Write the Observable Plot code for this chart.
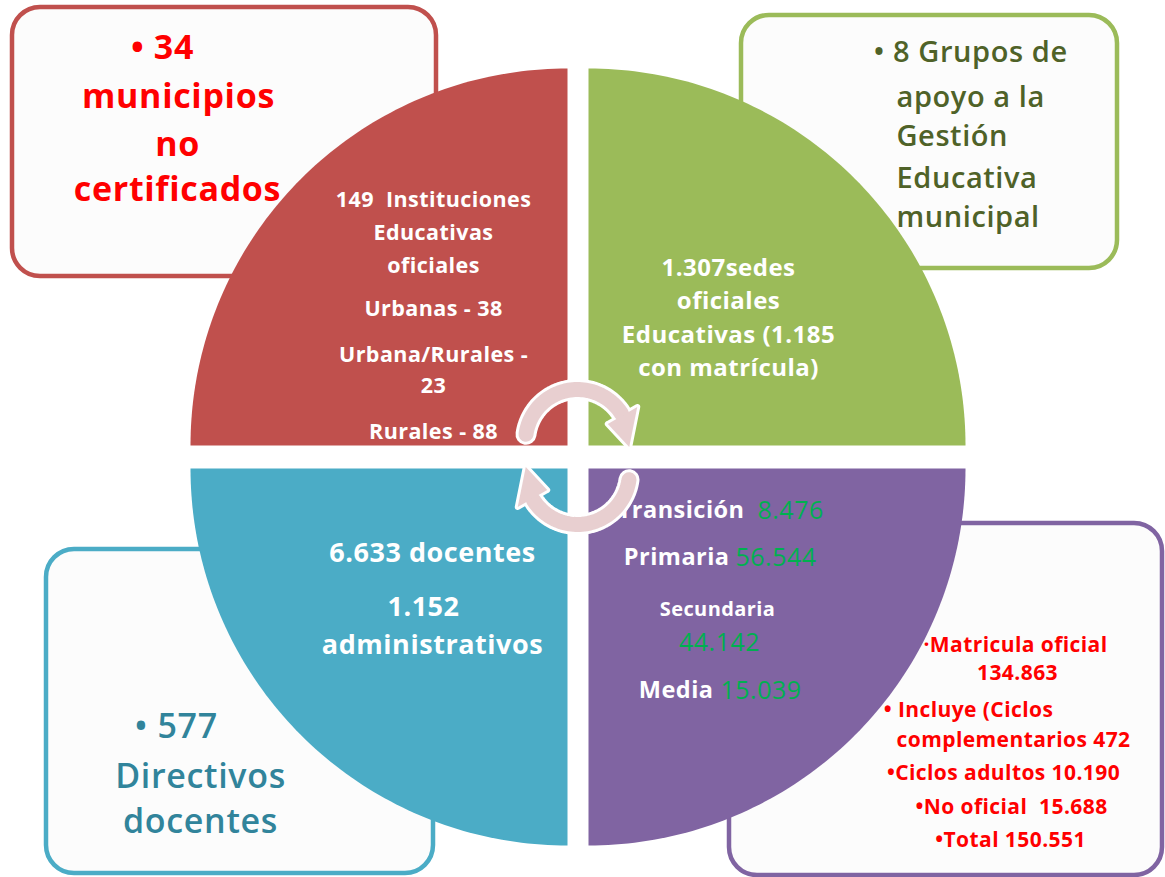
<!DOCTYPE html>
<html><head><meta charset="utf-8">
<script src="https://cdn.jsdelivr.net/npm/d3@7"></script>
<script src="https://cdn.jsdelivr.net/npm/@observablehq/plot@0.6"></script>
<style>body{margin:0;background:#fff}svg{display:block}svg text{letter-spacing:0.02em}</style>
</head><body><div id="chart"></div>
<script>
// ---- data ----
const quadrants = ["Instituciones", "Sedes", "Docentes", "Matrícula"];
const quadrantColors = ["#c0504d", "#9bbb59", "#4bacc6", "#8064a2"];
const redLines = ["149  Instituciones", "Educativas", "oficiales", "Urbanas - 38", "Urbana/Rurales -", "23", "Rurales - 88"];
const greenLines = ["1.307sedes", "oficiales", "Educativas (1.185", "con matrícula)"];
const blueLines = ["6.633 docentes", "1.152", "administrativos"];
const levelNames = ["Transición", "Primaria", "Secundaria", "Media"];
const levelValues = ["8.476", "56.544", "44.142", "15.039"];
const redBox = ["• 34", "municipios", "no", "certificados"];
const greenBox = ["• 8 Grupos de", "apoyo a la", "Gestión", "Educativa", "municipal"];
const blueBox = ["• 577", "Directivos", "docentes"];
const purpleBox = ["·Matricula oficial", "134.863", "• Incluye (Ciclos", "complementarios 472", "•Ciclos adultos 10.190", "•No oficial  15.688", "•Total 150.551"];

// ---- layout ----
const W = 1165, H = 877, R = 377;
const corners = [[567, 445, 90, 180], [588, 445, 0, 90], [567, 468, 180, 270], [588, 468, 270, 360]];
const boxes = [
  {q: 0, x1: 12, x2: 436, y1: 7, y2: 276},
  {q: 1, x1: 741, x2: 1117, y1: 15, y2: 268},
  {q: 2, x1: 46, x2: 433, y1: 549, y2: 873},
  {q: 3, x1: 729, x2: 1162, y1: 523, y2: 875}
];
const rad = d => d * Math.PI / 180;
function pt(cx, cy, r, a) { return {x: cx + r * Math.cos(rad(a)), y: cy - r * Math.sin(rad(a))}; }
function quarter(i) {
  const [cx, cy, a0, a1] = corners[i];
  const pts = [{x: cx, y: cy}];
  for (let a = a0; a <= a1 + 1e-9; a += 1) pts.push(pt(cx, cy, R, a));
  pts.push({x: cx, y: cy});
  return pts;
}
function arcPts(cx, cy, r, a0, a1) {
  const n = 60, pts = [];
  for (let k = 0; k <= n; k++) pts.push(pt(cx, cy, r, a0 + (a1 - a0) * k / n));
  return pts;
}
function head(cx, cy, r, aBase, aTip, hw) {
  return [pt(cx, cy, r - hw, aBase), pt(cx, cy, r, aTip), pt(cx, cy, r + hw, aBase), pt(cx, cy, r - hw, aBase)];
}
const arrows = [
  {cx: 577, cy: 441, r: 52, a0: 172, a1: 30, tip: -6},
  {cx: 577, cy: 472, r: 52, a0: -8, a1: -150, tip: -186}
];

const lines = (arr, xs, ys) => arr.map((t, i) => ({t, x: Array.isArray(xs) ? xs[i] : xs, y: ys[i]}));
const FONT = "'Open Sans', Lato, sans-serif";

const marks = [];
boxes.forEach(b => marks.push(Plot.rect([b], {x1: "x1", x2: "x2", y1: "y1", y2: "y2", rx: 28, fill: "#fcfcfc", stroke: quadrantColors[b.q], strokeWidth: 4.5})));
quadrants.forEach((q, i) => marks.push(Plot.line(quarter(i), {x: "x", y: "y", fill: quadrantColors[i], stroke: "none"})));

// quadrant texts
marks.push(Plot.text(lines(redLines, 433, [200, 233, 266, 309, 355, 386, 432]), {x: "x", y: "y", text: "t", fill: "white", fontSize: 21.5, fontWeight: "bold", fontFamily: FONT}));
marks.push(Plot.text(lines(greenLines, 728, [268, 301, 335, 368]), {x: "x", y: "y", text: "t", fill: "white", fontSize: 24, fontWeight: "bold", fontFamily: FONT}));
marks.push(Plot.text(lines(blueLines, [432, 423, 432], [553, 607, 645]), {x: "x", y: "y", text: "t", fill: "white", fontSize: 27, fontWeight: "bold", fontFamily: FONT}));
const lvl = [
  {n: levelNames[0], v: levelValues[0], xe: 744, xs: 757, y: 510},
  {n: levelNames[1], v: levelValues[1], xe: 729, xs: 735, y: 557},
  {n: levelNames[3], v: levelValues[3], xe: 713, xs: 720, y: 690}
];
marks.push(Plot.text(lvl, {x: "xe", y: "y", text: "n", textAnchor: "end", fill: "white", fontSize: 23.5, fontWeight: "bold", fontFamily: FONT}));
marks.push(Plot.text(lvl, {x: "xs", y: "y", text: "v", textAnchor: "start", fill: "#00b050", fontSize: 25, fontFamily: FONT}));
marks.push(Plot.text([{t: levelNames[2]}], {x: () => 717, y: () => 609, text: "t", fill: "white", fontSize: 20, fontWeight: "bold", fontFamily: FONT}));
marks.push(Plot.text([{t: levelValues[2]}], {x: () => 719, y: () => 642, text: "t", fill: "#00b050", fontSize: 25, fontFamily: FONT}));

// box texts
marks.push(Plot.text(lines(redBox, [162, 178, 177, 177], [48, 97, 145, 190]), {x: "x", y: "y", text: "t", fill: "#ff0000", fontSize: 34, fontWeight: "bold", fontFamily: FONT}));
marks.push(Plot.text(lines(greenBox, [873, 896, 896, 896, 896], [52, 97, 136, 178, 217]), {x: "x", y: "y", text: "t", textAnchor: "start", fill: "#4f6228", fontSize: 29, fontWeight: 600, fontFamily: FONT}));
marks.push(Plot.text(lines(blueBox.slice(0, 1), [134], [727]), {x: "x", y: "y", text: "t", textAnchor: "start", fill: "#31849b", fontSize: 34, fontWeight: 600, fontFamily: FONT}));
marks.push(Plot.text(lines(blueBox.slice(1), [200, 200], [777, 822]), {x: "x", y: "y", text: "t", fill: "#31849b", fontSize: 34, fontWeight: 600, fontFamily: FONT}));
marks.push(Plot.text(lines(purpleBox, [1015, 1017, 968, 1013, 1003, 1011, 1010], [645, 673, 710, 740, 773, 807, 840]), {x: "x", y: "y", text: "t", fill: "#ff0000", fontSize: 21, fontWeight: "bold", fontFamily: FONT}));

// arrows
arrows.forEach(a => {
  const shaft = arcPts(a.cx, a.cy, a.r, a.a0, a.a1 + (a.a1 < a.a0 ? 2 : -2));
  const hd = head(a.cx, a.cy, a.r, a.a1, a.tip, 17);
  marks.push(Plot.line(shaft, {x: "x", y: "y", stroke: "white", strokeWidth: 21}));
  marks.push(Plot.line(hd, {x: "x", y: "y", fill: "white", stroke: "white", strokeWidth: 6, strokeLinejoin: "round"}));
  marks.push(Plot.line(shaft, {x: "x", y: "y", stroke: "#e8cfd0", strokeWidth: 15}));
  marks.push(Plot.line(hd, {x: "x", y: "y", fill: "#e8cfd0", stroke: "none"}));
});

const chart = Plot.plot({
  width: W, height: H, margin: 0,
  x: {domain: [0, W], range: [0, W], axis: null},
  y: {domain: [0, H], range: [0, H], axis: null},
  style: {background: "white"},
  marks
});
document.getElementById("chart").append(chart);
</script>
</body></html>
